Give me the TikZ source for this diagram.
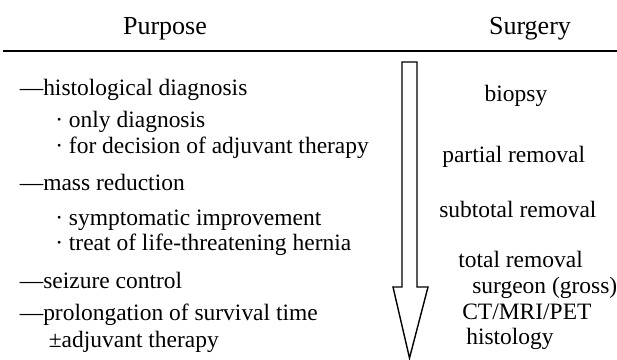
\documentclass[tikz,border=0pt]{standalone}
\usepackage{fontspec}
\setmainfont{Liberation Serif}
\usepackage{tikz}

\begin{document}
\begin{tikzpicture}[
    font=\fontsize{16.7pt}{19pt}\selectfont,
    kepala/.style={anchor=base, font=\fontsize{18.5pt}{21pt}\selectfont},
    tujuan/.style={anchor=base west, inner sep=0pt},
    tindakan/.style={anchor=base west, inner sep=0pt},
    panah/.style={draw, line width=1pt, fill=white, line join=miter}
  ]
    \useasboundingbox (0,0) rectangle (15.425,-8.975);
    % kepala tabel
    \node[kepala] (purpose) at (4.125,-0.85) {Purpose};
    \node[kepala] (surgery) at (13.25,-0.85) {Surgery};
    \coordinate (garisA) at (0.075,-1.275);
    \coordinate (garisB) at (15.425,-1.275);
    \draw[line width=1.4pt] (garisA) -- (garisB);
    % kolom tujuan
    \node[tujuan] (histo) at (0.4875,-2.375) {—histological diagnosis};
    \node[tujuan] (only) at (1.375,-3.175) {· only diagnosis};
    \node[tujuan] (decision) at (1.375,-3.825) {· for decision of adjuvant therapy};
    \node[tujuan] (mass) at (0.4875,-4.75) {—mass reduction};
    \node[tujuan] (sympt) at (1.375,-5.625) {· symptomatic improvement};
    \node[tujuan] (hernia) at (1.375,-6.25) {· treat of life-threatening hernia};
    \node[tujuan] (seizure) at (0.4875,-7.2) {—seizure control};
    \node[tujuan] (prolong) at (0.4875,-8.0) {—prolongation of survival time};
    \node[tujuan] (adjuvant) at (1.2125,-8.675) {±adjuvant therapy};
    % panah besar
    \draw[panah] (10.05,-1.55) -- (10.425,-1.55) -- (10.425,-7.175)
      -- (10.7,-7.175) -- (10.2375,-8.95) -- (9.825,-7.175)
      -- (10.05,-7.175) -- cycle;
    % kolom tindakan bedah
    \node[kepala, font=\fontsize{16.7pt}{19pt}\selectfont] (biopsy) at (12.9,-2.525) {biopsy};
    \node[tindakan] (partial) at (11.05,-4.05) {partial removal};
    \node[tindakan] (subtotal) at (10.975,-5.425) {subtotal removal};
    \node[tindakan] (total) at (11.45,-6.675) {total removal};
    \node[tindakan] (surgeon) at (11.8,-7.325) {surgeon (gross)};
    \node[tindakan] (ct) at (11.55,-7.975) {CT/MRI/PET};
    \node[tindakan] (histology) at (11.65,-8.6) {histology};
  \end{tikzpicture}
\end{document}
